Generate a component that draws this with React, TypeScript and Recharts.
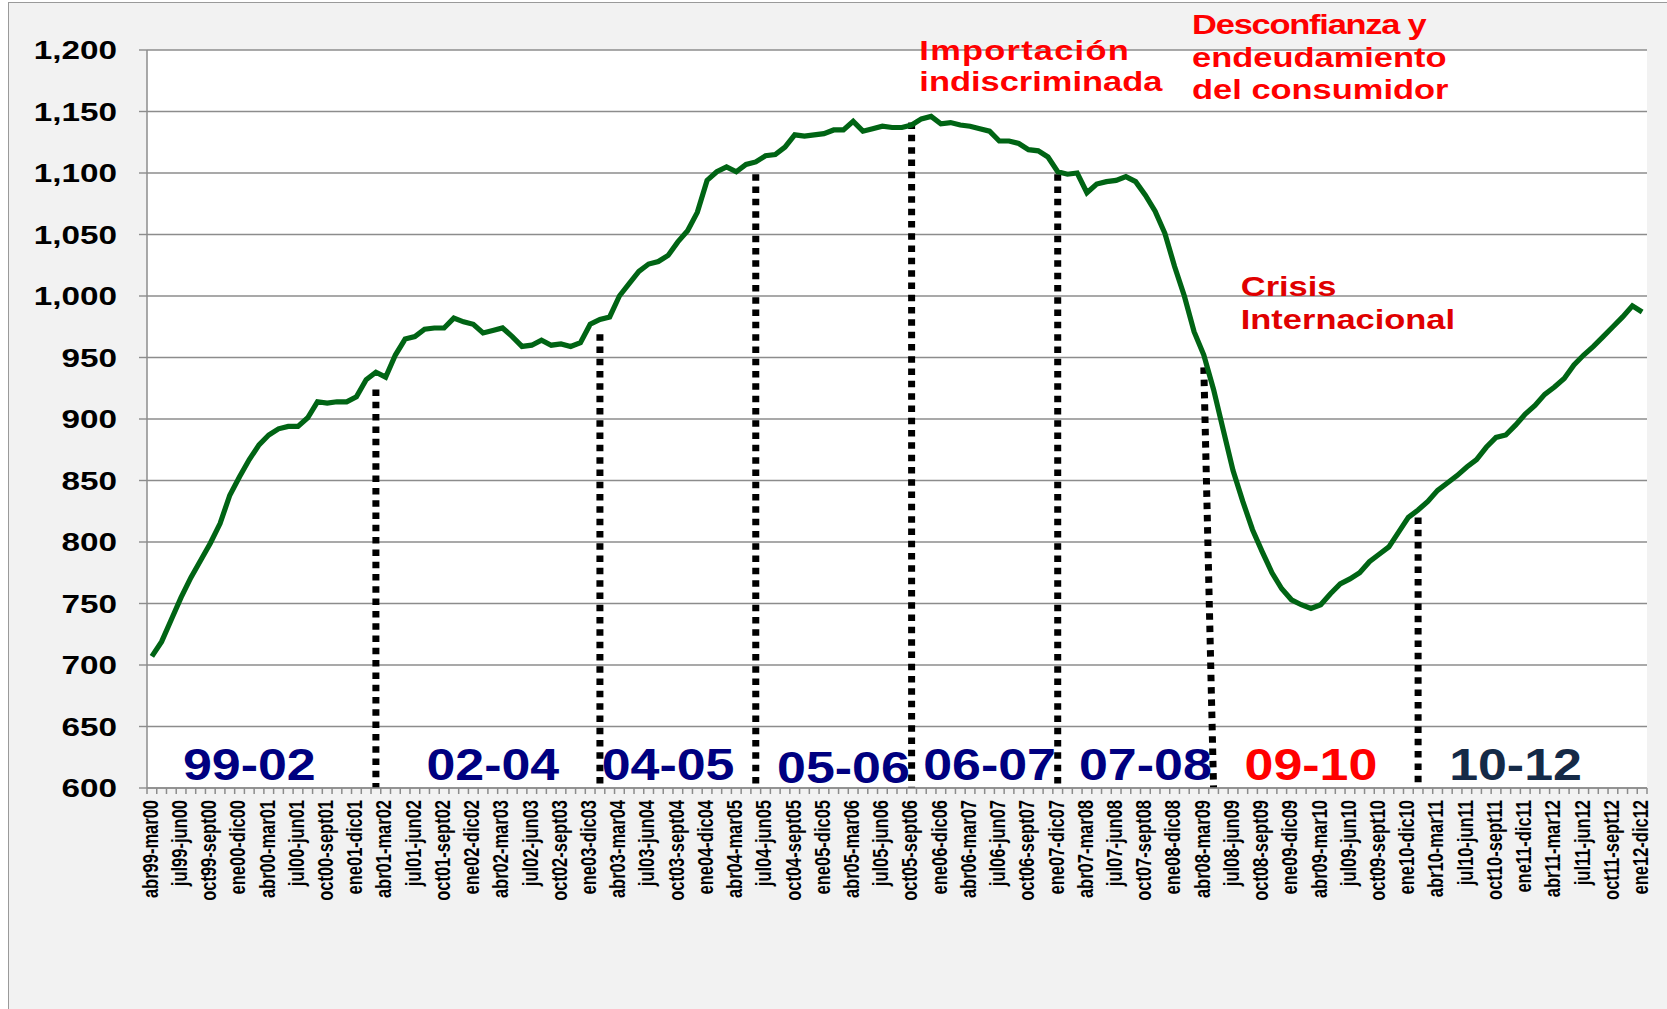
import React from 'react';
import { LineChart, Line, XAxis, YAxis, CartesianGrid, ReferenceLine, ReferenceDot } from 'recharts';

// ---- data ----
const MONTHS = ['ene', 'feb', 'mar', 'abr', 'may', 'jun', 'jul', 'ago', 'sept', 'oct', 'nov', 'dic'];
const yy = (y: number) => String(y % 100).padStart(2, '0');
// rolling 12-month periods: abr99-mar00 ... ene12-dic12
const categories: string[] = Array.from({ length: 154 }, (_, i) => {
  const s = 3 + i;
  const e = s + 11;
  return `${MONTHS[s % 12]}${yy(1999 + Math.floor(s / 12))}-${MONTHS[e % 12]}${yy(1999 + Math.floor(e / 12))}`;
});

const values: number[] = [
  707, 719, 737, 755, 771, 785, 799, 815, 838, 853,
  867, 879, 887, 892, 894, 894, 901, 914, 913, 914,
  914, 918, 932, 938, 934, 952, 965, 967, 973, 974,
  974, 982, 979, 977, 970, 972, 974, 967, 959, 960,
  964, 960, 961, 959, 962, 977, 981, 983, 1000, 1010,
  1020, 1026, 1028, 1033, 1044, 1053, 1068, 1094, 1101, 1105,
  1101, 1107, 1109, 1114, 1115, 1121, 1131, 1130, 1131, 1132,
  1135, 1135, 1142, 1134, 1136, 1138, 1137, 1137, 1139, 1144,
  1146, 1140, 1141, 1139, 1138, 1136, 1134, 1126, 1126, 1124,
  1119, 1118, 1113, 1101, 1099, 1100, 1084, 1091, 1093, 1094,
  1097, 1093, 1082, 1069, 1051, 1024, 1000, 971, 952, 924,
  891, 858, 833, 810, 792, 775, 762, 753, 749, 746,
  749, 758, 766, 770, 775, 784, 790, 796, 808, 820,
  826, 833, 842, 848, 854, 861, 867, 877, 885, 887,
  895, 904, 911, 920, 926, 933, 944, 952, 959, 967,
  975, 983, 992, 987,
];

const yTicks: number[] = [600, 650, 700, 750, 800, 850, 900, 950, 1000, 1050, 1100, 1150, 1200];

// dotted period dividers (top index, bottom index, top value)
const dividerTopIdx: number[] = [23, 46, 62, 78, 93, 108, 130];
const dividerBottomIdx: number[] = [23, 46, 62, 78, 93, 109, 130];
const dividerTopValue: number[] = [924, 969, 1099, 1141, 1099, 942, 820];

// period labels
const periodLabels: string[] = ['99-02', '02-04', '04-05', '05-06', '06-07', '07-08', '09-10', '10-12'];
const periodIdx: number[] = [10, 35, 53, 71, 86, 102, 119, 140];
const periodValue: number[] = [606.5, 606.5, 606.5, 604, 606.5, 606.5, 606.5, 606.5];
const periodColors: string[] = ['#000080', '#000080', '#000080', '#000080', '#000080', '#000080', '#FF0000', '#152A47'];

// annotations
const noteLines: string[][] = [
  ['Importación', 'indiscriminada'],
  ['Desconfianza y', 'endeudamiento', 'del consumidor'],
  ['Crisis', 'Internacional'],
];
const noteSpacing: number[][] = [
  [1.0, 0],
  [-1, 0, 0],
  [0, 0],
];
const noteIdx: number[] = [79, 107, 112];
const noteValue: number[] = [1191.9, 1213, 1000];
const noteColors: string[] = ['#FF0000', '#FF0000', '#E00000'];
const noteLineHeights: number[] = [30.7, 32.5, 33];

const data = categories.map((c, i) => ({ cat: c, v: values[i] }));

// ---- style constants ----
const FONT = 'Liberation Sans, Arial, Helvetica, sans-serif';
const STEP = 9.74;
const GRID = '#8c8c8c';

const XTick = (props: any) => {
  const { x, y, payload } = props;
  const i = payload.index;
  const half = STEP / 2;
  return (
    <g>
      <line x1={x - half} x2={x - half} y1={y} y2={y + 6} stroke={GRID} strokeWidth={1.5} />
      {i === categories.length - 1 && (
        <line x1={x + half} x2={x + half} y1={y} y2={y + 6} stroke={GRID} strokeWidth={1.5} />
      )}
      {i % 3 === 0 && (
        <text
          transform={`translate(${x - 2},${y + 12}) scale(1.35,1) rotate(-90)`}
          textAnchor="end"
          dy="0.35em"
          fontSize={16.5}
          fontWeight="bold"
          fontFamily={FONT}
          fill="#000"
        >
          {payload.value}
        </text>
      )}
    </g>
  );
};

const YTick = (props: any) => {
  const { x, y, payload } = props;
  return (
    <text
      transform={`translate(${x},${y}) scale(1.33,1)`}
      textAnchor="end"
      dy="0.36em"
      fontSize={25}
      fontWeight="bold"
      fontFamily={FONT}
      fill="#000"
    >
      {Number(payload.value).toLocaleString('en-US')}
    </text>
  );
};

const periodShape = (label: string, color: string) => (p: any) => (
  <text
    transform={`translate(${p.cx},${p.cy}) scale(1.18,1)`}
    textAnchor="middle"
    fontSize={44}
    fontWeight="bold"
    fontFamily={FONT}
    fill={color}
  >
    {label}
  </text>
);

const noteShape = (lines: string[], spacing: number[], color: string, lh: number) => (p: any) => (
  <text
    transform={`translate(${p.cx - 2},${p.cy}) scale(1.23,1)`}
    textAnchor="start"
    fontSize={28}
    fontWeight="bold"
    fontFamily={FONT}
    fill={color}
  >
    {lines.map((t, k) => (
      <tspan key={k} x={0} dy={k === 0 ? 0 : lh} letterSpacing={spacing[k]}>
        {t}
      </tspan>
    ))}
  </text>
);

export default function App() {
  return (
    <div style={{ position: 'relative', width: 1667, height: 1009, overflow: 'hidden', background: '#ffffff' }}>
      <style>{`html,body{margin:0;padding:0;overflow:hidden;}`}</style>
      <div
        style={{
          position: 'absolute',
          left: 8,
          top: 2,
          width: 1720,
          height: 1060,
          background: '#F2F2F2',
          border: '1.5px solid #9a9a9a',
          boxSizing: 'border-box',
        }}
      />
      <div style={{ position: 'absolute', left: 0, top: 0 }}>
        <LineChart width={1667} height={1009} data={data} margin={{ top: 50, right: 20, bottom: 0, left: 0 }}>
          <CartesianGrid vertical={false} stroke={GRID} strokeWidth={1.4} fill="#ffffff" fillOpacity={1} />
          <XAxis
            dataKey="cat"
            interval={0}
            height={221}
            padding={{ left: STEP / 2, right: STEP / 2 }}
            tick={<XTick />}
            tickLine={false}
            tickSize={0}
            tickMargin={0}
            axisLine={{ stroke: GRID, strokeWidth: 1.5 }}
          />
          <YAxis
            domain={[600, 1200]}
            ticks={yTicks}
            interval={0}
            width={147}
            tick={<YTick />}
            tickSize={8}
            tickMargin={22}
            tickLine={{ stroke: GRID, strokeWidth: 1.4 }}
            axisLine={{ stroke: GRID, strokeWidth: 1.5 }}
            allowDataOverflow
          />
          {dividerTopIdx.map((t, k) => (
            <ReferenceLine
              key={`d${k}`}
              segment={[
                { x: categories[t], y: dividerTopValue[k] },
                { x: categories[dividerBottomIdx[k]], y: 600 },
              ]}
              stroke="#000"
              strokeWidth={7}
              strokeDasharray="6.5 5.8"
              ifOverflow="visible"
            />
          ))}
          <Line
            type="linear"
            dataKey="v"
            stroke="#006414"
            strokeWidth={5.2}
            dot={false}
            activeDot={false}
            isAnimationActive={false}
          />
          {periodLabels.map((lab, k) => (
            <ReferenceDot
              key={`p${k}`}
              x={categories[periodIdx[k]]}
              y={periodValue[k]}
              r={0}
              ifOverflow="visible"
              shape={periodShape(lab, periodColors[k])}
            />
          ))}
          {noteLines.map((lines, k) => (
            <ReferenceDot
              key={`n${k}`}
              x={categories[noteIdx[k]]}
              y={noteValue[k]}
              r={0}
              ifOverflow="visible"
              shape={noteShape(lines, noteSpacing[k], noteColors[k], noteLineHeights[k])}
            />
          ))}
        </LineChart>
      </div>
    </div>
  );
}
